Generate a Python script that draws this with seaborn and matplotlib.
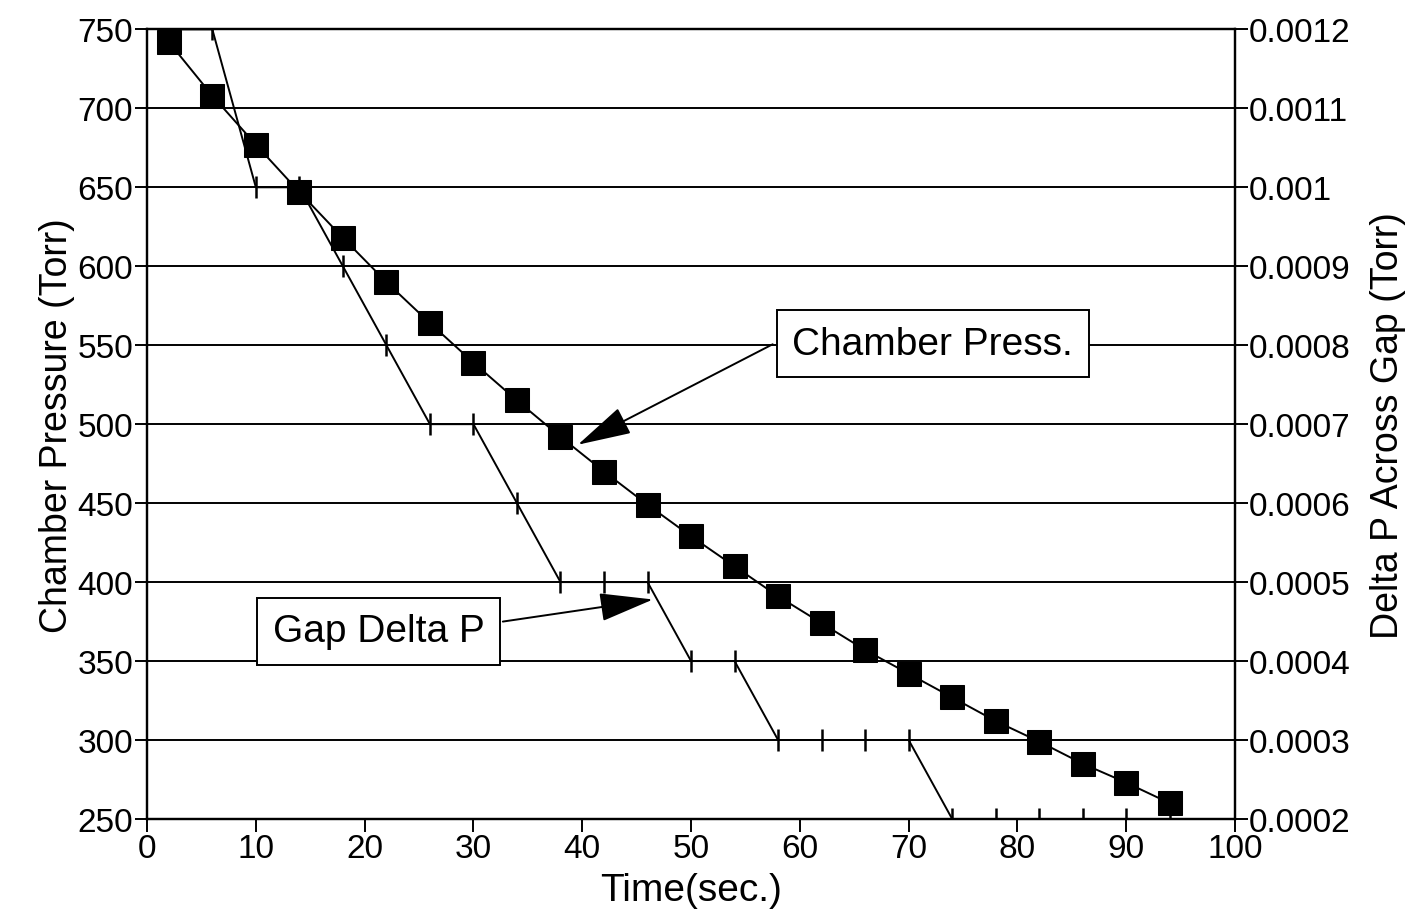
"""
Chamber pressure and gap delta P vs time
"""
import matplotlib
matplotlib.use("Agg")
import matplotlib.pyplot as plt
import seaborn as sns
import pandas as pd

# time points (sec.)
time_s = [2, 6, 10, 14, 18, 22, 26, 30, 34, 38, 42, 46,
          50, 54, 58, 62, 66, 70, 74, 78, 82, 86, 90, 94]

# chamber pressure (Torr), left axis
chamber_press = [742, 708, 677, 647, 618, 590, 564, 539, 515, 492, 470, 449,
                 429, 410, 391, 374, 357, 342, 327, 312, 299, 285, 273, 260]

# delta P across gap (Torr), right axis
gap_delta_p = [0.0012, 0.0012, 0.0010, 0.0010, 0.0009, 0.0008, 0.0007, 0.0007,
               0.0006, 0.0005, 0.0005, 0.0005, 0.0004, 0.0004, 0.0003, 0.0003,
               0.0003, 0.0003, 0.0002, 0.0002, 0.0002, 0.0002, 0.0002, 0.0002]

left_ticks = [250, 300, 350, 400, 450, 500, 550, 600, 650, 700, 750]
right_ticks = [0.0002, 0.0003, 0.0004, 0.0005, 0.0006, 0.0007,
               0.0008, 0.0009, 0.0010, 0.0011, 0.0012]
x_ticks = [0, 10, 20, 30, 40, 50, 60, 70, 80, 90, 100]

df = pd.DataFrame({"time": time_s, "chamber": chamber_press, "gap": gap_delta_p})

sns.set_style("ticks")
plt.rcParams["font.family"] = ["Liberation Sans", "DejaVu Sans"]
plt.rcParams["axes.linewidth"] = 1.6
for key in ["text.color", "axes.labelcolor", "xtick.color", "ytick.color", "axes.edgecolor"]:
    plt.rcParams[key] = "black"

fig = plt.figure(figsize=(14.18, 9.2), dpi=100)
ax = fig.add_axes([0.1037, 0.1087, 0.7673, 0.8583])

# horizontal grid
for v in left_ticks:
    ax.axhline(v, color="black", lw=1.4, zorder=1)

sns.lineplot(data=df, x="time", y="chamber", ax=ax, color="black", lw=1.4,
             marker="s", markersize=17, markeredgecolor="black", zorder=4)

ax.set_xlim(0, 100)
ax.set_ylim(250, 750)
ax.set_xticks(x_ticks)
ax.set_yticks(left_ticks)
ax.tick_params(axis="both", labelsize=24, length=9, width=1.4, color="black",
               pad=1, direction="out")
ax.set_xlabel("Time(sec.)", fontsize=28, labelpad=6)
ax.set_ylabel("Chamber Pressure (Torr)", fontsize=27, labelpad=2)
for side in ["left", "bottom", "right", "top"]:
    ax.spines[side].set_visible(True)

ax2 = ax.twinx()
sns.lineplot(data=df, x="time", y="gap", ax=ax2, color="black", lw=1.4,
             marker="|", markersize=16, markeredgewidth=1.8,
             markeredgecolor="black", zorder=3)
ax2.set_ylim(0.0002, 0.0012)
ax2.set_yticks(right_ticks)
ax2.set_yticklabels(["%g" % round(t, 4) for t in right_ticks])
ax2.tick_params(axis="y", labelsize=24, length=9, width=1.4, color="black", pad=1)
ax2.set_ylabel("Delta P Across Gap (Torr)", fontsize=27, labelpad=14)
ax2.set_xlabel("")

# annotations
arrow_kw = dict(arrowstyle="-|>,head_length=1.7,head_width=0.45",
                mutation_scale=20, color="black", lw=1.4, shrinkA=0, shrinkB=0)
box_kw = dict(boxstyle="square,pad=0.4", fc="white", ec="black", lw=1.4)

ax.annotate("", xy=(39.6, 487), xytext=(57.5, 550.6), arrowprops=arrow_kw, zorder=5)
ax.text(72.2, 551, "Chamber Press.", fontsize=28, ha="center", va="center",
        bbox=box_kw, zorder=6)

ax.annotate("", xy=(46.5, 389), xytext=(32.7, 375), arrowprops=arrow_kw, zorder=5)
ax.text(21.3, 369, "Gap Delta P", fontsize=28, ha="center", va="center",
        bbox=box_kw, zorder=6)

fig.savefig("out.png", dpi=100)
